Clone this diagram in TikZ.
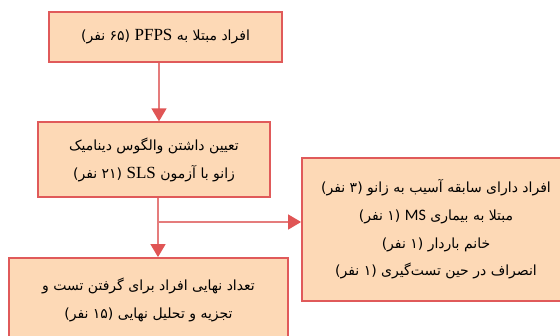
\documentclass[tikz,border=0pt]{standalone}
\usepackage{fontspec}
\newfontfamily\arabicfont[Script=Arabic]{DejaVu Sans}
\newfontfamily\latserif{Liberation Serif}
\newfontfamily\latsans{Carlito}
\TeXXeTstate=1
\usetikzlibrary{arrows.meta}
\definecolor{boxfill}{HTML}{FDD9B6}
\definecolor{boxline}{HTML}{E05A5A}
\definecolor{arrline}{HTML}{E57C7C}
\definecolor{arrhead}{HTML}{E05555}
\newcommand{\latS}[1]{\beginL{\latserif\fontsize{17}{17}\selectfont #1}\endL{}}
\newcommand{\latM}[1]{\beginL{\latsans\fontsize{16}{16}\selectfont #1}\endL{}}
\tikzset{
  flowbox/.style={draw=boxline, fill=boxfill, line width=1.8pt, rectangle,
    align=center, inner sep=0pt,
    font=\arabicfont\fontsize{14}{27.6}\selectfont},
  flowarrow/.style={draw=arrline, line width=1.3pt,
    -{Triangle[width=15pt,length=13pt,fill=arrhead,color=arrhead]}},
}
\begin{document}
\begin{tikzpicture}[x=1pt,y=-1pt]
\useasboundingbox (0,0) rectangle (560,335);
\clip (0,0) rectangle (560,335);
\fill[white] (0,0) rectangle (560,335);
\node[flowbox, minimum width=233pt, minimum height=50pt] (b1) at (165.5,37)
  {\beginR افراد مبتلا به \latS{PFPS} (۶۵ نفر)\endR};
\node[flowbox, minimum width=232pt, minimum height=75pt] (b2) at (154,159.75)
  {\beginR تعیین داشتن والگوس دینامیک\endR\\
   \beginR زانو با آزمون \latS{SLS} (۲۱ نفر)\endR};
\node[flowbox, minimum width=268pt, minimum height=143pt] (b3) at (436,229.5)
  {\beginR افراد دارای سابقه آسیب به زانو (۳ نفر)\endR\\
   \beginR مبتلا به بیماری \latM{MS} (۱ نفر)\endR\\
   \beginR خانم باردار (۱ نفر)\endR\\
   \beginR انصراف در حین تست‌گیری (۱ نفر)\endR};
\node[flowbox, minimum width=279pt, minimum height=84pt] (b4) at (148.5,300)
  {\beginR تعداد نهایی افراد برای گرفتن تست و\endR\\
   \beginR تجزیه و تحلیل نهایی (۱۵ نفر)\endR};
\coordinate (ax1) at (159,0);
\coordinate (ax2) at (158,0);
\coordinate (br) at (158,222);
\draw[flowarrow] (b1.south -| ax1) -- (b2.north -| ax1);
\draw[flowarrow] (b2.south -| ax2) -- (b4.north -| ax2);
\draw[flowarrow] (br) -- (br -| b3.west);
\end{tikzpicture}
\end{document}
